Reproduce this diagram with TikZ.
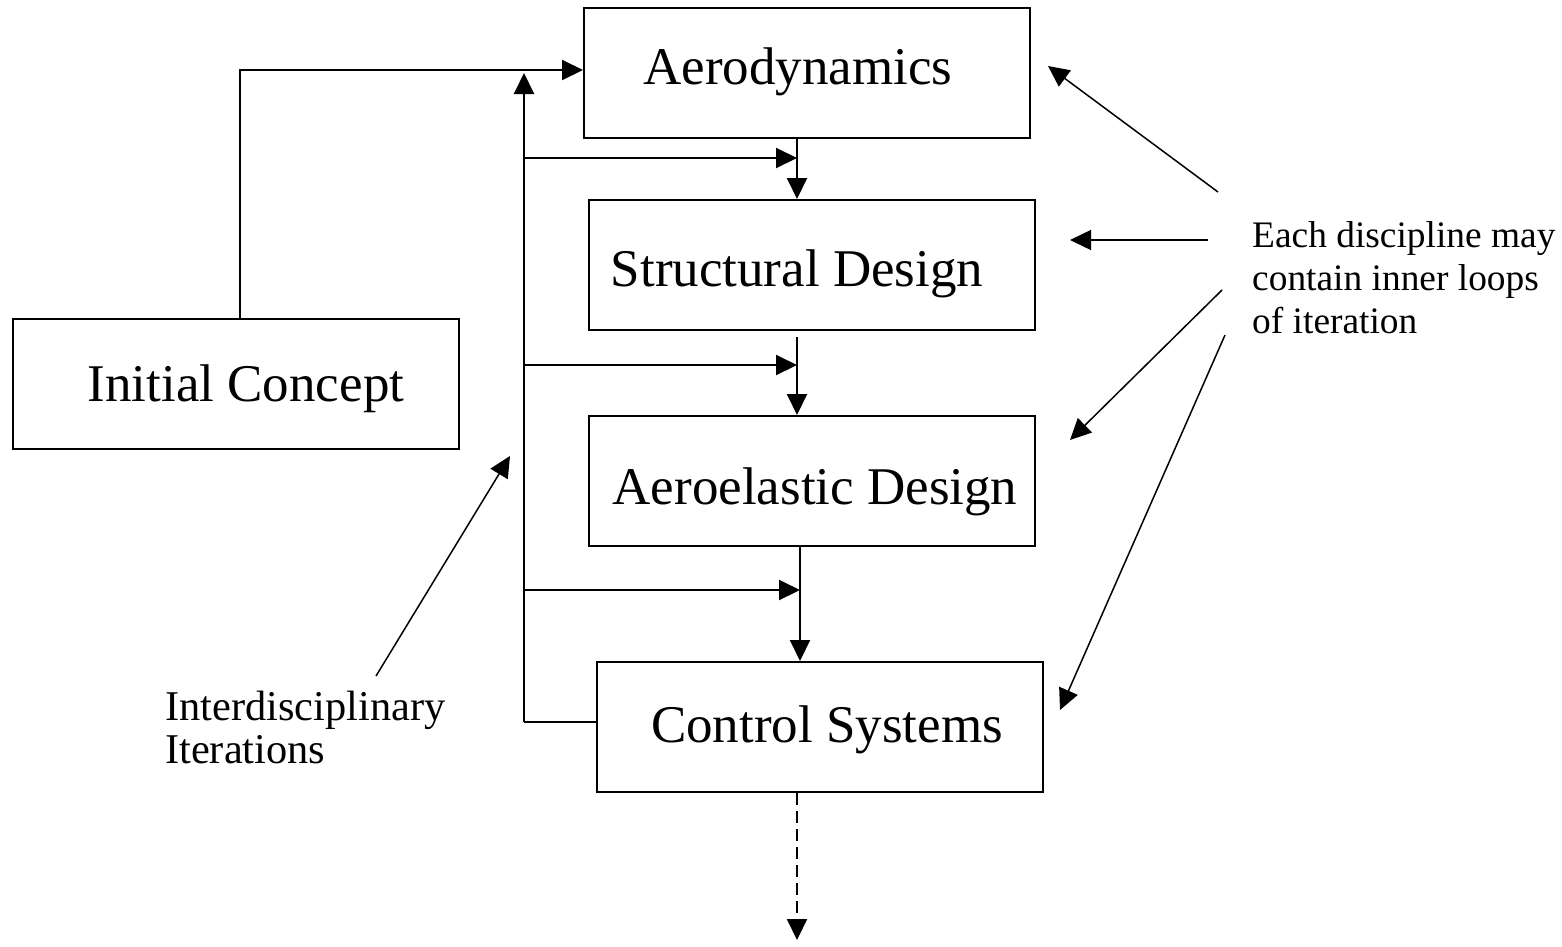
\documentclass[tikz,border=0pt]{standalone}
\usepackage{fontspec}
\setmainfont{Liberation Serif}
\usetikzlibrary{arrows.meta}
\tikzset{
  box/.style={draw, line width=2pt, minimum width=446pt, minimum height=130pt, inner sep=0pt},
  boxtext/.style={anchor=base, inner sep=0pt, font=\fontsize{53}{60}\selectfont},
  note/.style={anchor=base west, inner sep=0pt, align=left},
  flow/.style={line width=2pt, -{Triangle[length=21pt,width=20pt]}},
  pointer/.style={flow, line width=1.5pt},
  wire/.style={line width=2pt},
}
\begin{document}
\begin{tikzpicture}[x=1pt,y=-1pt]
\useasboundingbox (0,0) rectangle (1562,946);
% discipline boxes
\node[box] (aero)  at (807,73)  {};
\node[box] (struc) at (812,265) {};
\node[box] (aeroel) at (812,481) {};
\node[box] (ctrl)  at (820,727) {};
\node[box] (init)  at (236,383.5) {};
\node[boxtext] at (798,84)  {Aerodynamics};
\node[boxtext] at (797,286) {Structural Design};
\node[boxtext] at (815,504) {Aeroelastic Design};
\node[boxtext] at (827,742) {Control Systems};
\node[boxtext] at (246,401) {Initial Concept};
% feedback bus
\coordinate (top) at (240,70);
\coordinate (bus) at (524,722);
\coordinate (bustop) at (524,73);
\coordinate (j1) at (524,158);
\coordinate (j2) at (524,365);
\coordinate (j3) at (524,590);
\coordinate (t1) at (797,158);
\coordinate (t2) at (797,365);
\coordinate (t3) at (800,590);
\coordinate (s2) at (797,337);
\draw[flow] (init.north -| top) -- (top) -- (aero.west |- top);
\draw[wire] (ctrl.west |- bus) -- (bus);
\draw[flow] (bus) -- (bustop);
\draw[flow] (j1) -- (t1);
\draw[flow] (j2) -- (t2);
\draw[flow] (j3) -- (t3);
% forward chain
\draw[flow] (aero.south -| t1) -- (struc.north -| t1);
\draw[flow] (s2) -- (aeroel.north -| t2);
\draw[flow] (aeroel.south -| t3) -- (ctrl.north -| t3);
\coordinate (out) at (797,940);
\draw[flow, dash pattern=on 12pt off 6pt] (ctrl.south -| out) -- (out);
% annotations (base anchor = baseline of the last line)
\node[note, font=\fontsize{37.4}{43}\selectfont] (inner) at (1252,333)
  {Each discipline may\\contain inner loops\\of iteration};
\node[note, font=\fontsize{42.4}{43}\selectfont] (inter) at (165,763)
  {Interdisciplinary\\Iterations};
\coordinate (a1) at (1218,192);
\coordinate (a2) at (1208,240);
\coordinate (a3) at (1222,290);
\coordinate (a4) at (1225,335);
\coordinate (b1) at (376,676);
\coordinate (h1) at (1048,66);
\coordinate (h2) at (1070,240);
\coordinate (h3) at (1070,440);
\coordinate (h4) at (1060,710);
\coordinate (hb) at (510,456);
\draw[pointer] (a1) -- (h1);
\draw[pointer] (a2) -- (h2);
\draw[pointer] (a3) -- (h3);
\draw[pointer] (a4) -- (h4);
\draw[pointer] (b1) -- (hb);
\end{tikzpicture}
\end{document}
